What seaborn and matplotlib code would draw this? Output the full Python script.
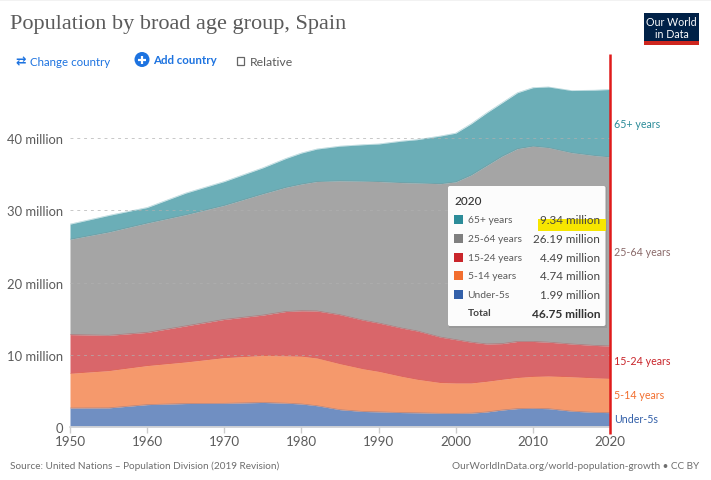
import matplotlib
matplotlib.use("Agg")
import matplotlib.pyplot as plt
from matplotlib.patches import FancyBboxPatch, Rectangle, Circle
from matplotlib.transforms import ScaledTranslation
import numpy as np
import pandas as pd
import seaborn as sns

years = [1950, 1955, 1960, 1965, 1970, 1975, 1978, 1980, 1982, 1985, 1988, 1990, 1993, 1995, 1998,
         2000, 2002, 2004, 2006, 2008, 2010, 2012, 2015, 2018, 2020]
under5 = [2.63, 2.65, 3.10, 3.25, 3.28, 3.40, 3.30, 3.19, 2.95, 2.40, 2.15, 2.10, 2.00, 1.97, 1.90,
          1.89, 1.92, 2.08, 2.35, 2.55, 2.59, 2.54, 2.20, 2.03, 1.99]
age5_14 = [4.80, 5.15, 5.40, 5.75, 6.32, 6.50, 6.55, 6.61, 6.60, 6.35, 5.90, 5.60, 5.00, 4.63, 4.25,
           4.20, 4.17, 4.24, 4.25, 4.30, 4.41, 4.52, 4.75, 4.77, 4.74]
age15_24 = [5.37, 4.90, 4.60, 5.00, 5.30, 5.60, 6.15, 6.30, 6.52, 6.80, 6.75, 6.70, 6.70, 6.70, 6.30,
            6.01, 5.66, 5.18, 4.95, 5.00, 4.85, 4.69, 4.55, 4.50, 4.49]
age25_64 = [13.20, 14.30, 15.15, 15.40, 15.80, 16.80, 17.20, 17.55, 17.93, 18.55, 19.25, 19.60, 20.15, 20.50, 21.25,
            21.85, 23.15, 24.70, 25.95, 26.70, 27.05, 26.95, 26.50, 26.30, 26.19]
age65 = [2.10, 2.30, 2.15, 3.00, 3.30, 3.60, 4.00, 4.30, 4.50, 4.80, 5.05, 5.20, 5.75, 6.00, 6.60,
         6.75, 7.10, 7.30, 7.40, 7.75, 8.10, 8.40, 8.60, 9.05, 9.34]

series_names = ["Under-5s", "5-14 years", "15-24 years", "25-64 years", "65+ years"]
base_colors = ["#3360A9", "#F26E2E", "#C9252B", "#7F7F7F", "#2C8C99"]
label_colors = ["#3360A9", "#F26E2E", "#C9252B", "#8A6A6A", "#2C8C99"]
xticks = [1950, 1960, 1970, 1980, 1990, 2000, 2010, 2020]
yticks = [0, 10, 20, 30, 40]
ytick_labels = ["0", "10 million", "20 million", "30 million", "40 million"]

tooltip_year = "2020"
tooltip_names = ["65+ years", "25-64 years", "15-24 years", "5-14 years", "Under-5s"]
tooltip_values = ["9.34 million", "26.19 million", "4.49 million", "4.74 million", "1.99 million"]
tooltip_total = "46.75 million"

W, H = 711, 481
sns.set_theme(style="white")
plt.rcParams["font.family"] = ["Lato", "DejaVu Sans"]

fig = plt.figure(figsize=(W / 100, H / 100), dpi=100)
ax = fig.add_axes([70 / W, 1 - 428 / H, 540 / W, 373 / H])

values = [under5, age5_14, age15_24, age25_64, age65]
ax.stackplot(years, values, colors=base_colors, alpha=0.7, linewidth=0, zorder=2)

cum = np.cumsum(values, axis=0)
long = pd.DataFrame({
    "year": np.tile(years, len(series_names)),
    "top": cum.ravel(),
    "group": np.repeat(series_names, len(years)),
})
sns.lineplot(data=long, x="year", y="top", hue="group", palette=dict(zip(series_names, base_colors)),
             legend=False, linewidth=0.5, alpha=0.35, ax=ax, zorder=3)

ax.set_xlim(1950, 2020)
ax.set_ylim(0, 373 / 7.22)
ax.set_xlabel("")
ax.set_ylabel("")
ax.set_xticks(xticks)
ax.set_xticklabels([str(t) for t in xticks], fontsize=9.6, color="#5b5b5b")
ax.set_yticks(yticks)
ax.set_yticklabels(ytick_labels, fontsize=9.4, color="#5b5b5b")
up = ScaledTranslation(0, 1.5 / 100, fig.dpi_scale_trans)
for lab in ax.get_yticklabels():
    lab.set_transform(lab.get_transform() + up)
ax.tick_params(axis="x", length=4, width=1, color="#cccccc", pad=1.5, bottom=True)
ax.tick_params(axis="y", length=0, pad=5)
ax.yaxis.grid(True, color="#b0b0b0", linestyle=(0, (3, 4)), linewidth=0.7, alpha=0.7, zorder=4)
ax.set_axisbelow(False)
for s in ["top", "right", "left"]:
    ax.spines[s].set_visible(False)
ax.spines["bottom"].set_color("#d8d8d8")
ax.patch.set_alpha(0)

# page overlay in pixel coordinates
ov = fig.add_axes([0, 0, 1, 1], zorder=10)
ov.set_xlim(0, W)
ov.set_ylim(H, 0)
ov.axis("off")
ov.patch.set_alpha(0)

ov.add_patch(Rectangle((0, 0), W, 1.5, color="#f2f2f2", lw=0))
ov.text(10, 24, "Population by broad age group, Spain", family=["Liberation Serif", "DejaVu Serif"],
        fontsize=16.05, color="#5b5b5b", va="center", ha="left")

blue = "#1d73e0"
ov.text(15, 61.5, "⇄", family="DejaVu Sans", fontsize=9, color=blue, va="center", ha="left", fontweight="bold")
ov.text(30, 62, "Change country", fontsize=8.3, color=blue, va="center", ha="left")
ov.add_patch(Circle((142, 60.5), 7.5, color=blue, lw=0))
ov.plot([138, 146], [60.5, 60.5], color="white", lw=1.6, solid_capstyle="butt")
ov.plot([142, 142], [56.5, 64.5], color="white", lw=1.6, solid_capstyle="butt")
ov.text(153, 61, "Add country", fontsize=8.3, color=blue, va="center", ha="left", fontweight="bold")
ov.add_patch(Rectangle((236.5, 58), 7.5, 7.5, facecolor="white", edgecolor="#666666", lw=0.9))
ov.text(250, 62, "Relative", fontsize=8.8, color="#5b5b5b", va="center", ha="left")

# logo
ov.add_patch(Rectangle((644, 14), 55, 32, color="#002147", lw=0))
ov.add_patch(Rectangle((644, 42), 55, 4, color="#ce261e", lw=0))
ov.text(671.5, 22.5, "Our World", fontsize=7.7, color="white", va="center", ha="center")
ov.text(671.5, 35, "in Data", fontsize=7.7, color="white", va="center", ha="center")

# hover line
ov.plot([610, 610], [55, 435], color="#e01b1b", lw=1.8, solid_capstyle="butt")

# end labels
end_positions = [420, 396, 362, 252, 124]
for name, col, yp in zip(series_names, label_colors, end_positions):
    ov.text(614, yp, name, fontsize=7.7, color=col, va="center", ha="left")

# tooltip
ov.add_patch(Rectangle((448.5, 188), 158, 140.5, facecolor="#8c8c8c", lw=0, alpha=0.45))
ov.add_patch(FancyBboxPatch((448, 187), 157.5, 140, boxstyle="round,pad=0,rounding_size=2",
                            facecolor="white", edgecolor="none", lw=0, alpha=0.98))
ov.add_patch(Rectangle((538, 220), 68, 12, color="#f7e600", lw=0))
ov.text(454.5, 202, tooltip_year, fontsize=8.5, color="#333333", va="center", ha="left", fontweight="medium")
row_y = [220.5, 239.5, 258.5, 276.5, 295.5]
tip_colors = ["#2C8C99", "#7F7F7F", "#C9252B", "#F26E2E", "#3360A9"]
for yp, name, val, col in zip(row_y, tooltip_names, tooltip_values, tip_colors):
    ov.add_patch(Rectangle((454, yp - 5), 9, 9, color=col, lw=0))
    ov.text(467.5, yp, name, fontsize=7.4, color="#5b5b5b", va="center", ha="left")
    ov.text(600, yp, val, fontsize=8.4, color="#444444", va="center", ha="right")
ov.text(467.5, 314, "Total", fontsize=7.4, color="#444444", va="center", ha="left", fontweight="bold")
ov.text(600, 314.5, tooltip_total, fontsize=8.6, color="#333333", va="center", ha="right", fontweight="bold")

# footer
ov.text(10, 466.5, "Source: United Nations – Population Division (2019 Revision)", fontsize=7.18, color="#6e6e6e", va="center", ha="left")
ov.text(699, 466.5, "OurWorldInData.org/world-population-growth • CC BY", fontsize=7.2, color="#6e6e6e", va="center", ha="right")

fig.savefig("out.png", dpi=100)
